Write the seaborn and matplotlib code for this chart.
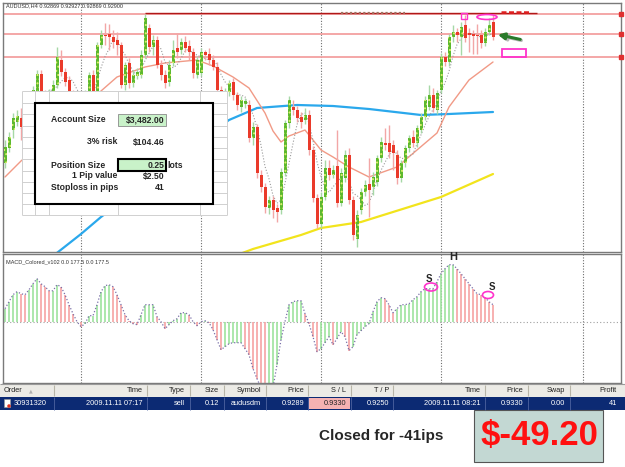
import numpy as np
import pandas as pd
import matplotlib
matplotlib.use("Agg")
import matplotlib.pyplot as plt
import seaborn as sns
from matplotlib.patches import Rectangle, Ellipse

# ---------------- data (AUDUSD H4) ----------------
opens = [0.9032, 0.9062, 0.9098, 0.9114, 0.9122, 0.9104, 0.9134, 0.9126, 0.9174, 0.9210,
         0.9168, 0.9154, 0.9168, 0.9188, 0.9238, 0.9214, 0.9198, 0.9174, 0.9150, 0.9164,
         0.9146, 0.9174, 0.9208, 0.9174, 0.9268, 0.9288, 0.9290, 0.9284, 0.9278, 0.9268,
         0.9188, 0.9232, 0.9192, 0.9206, 0.9208, 0.9248, 0.9302, 0.9264, 0.9278, 0.9228,
         0.9208, 0.9194, 0.9232, 0.9262, 0.9258, 0.9274, 0.9266, 0.9254, 0.9208, 0.9212,
         0.9254, 0.9250, 0.9238, 0.9224, 0.9178, 0.9158, 0.9174, 0.9194, 0.9168, 0.9144,
         0.9150, 0.9148, 0.9082, 0.9104, 0.9008, 0.8984, 0.8942, 0.8958, 0.8942, 0.8938,
         0.9012, 0.9112, 0.9144, 0.9138, 0.9124, 0.9118, 0.9128, 0.9058, 0.8962, 0.8910,
         0.8964, 0.9022, 0.9008, 0.9026, 0.8952, 0.9002, 0.9048, 0.8958, 0.8880, 0.8938,
         0.8974, 0.8990, 0.8984, 0.8994, 0.9042, 0.9072, 0.9072, 0.9068, 0.9048, 0.9002,
         0.9032, 0.9062, 0.9084, 0.9072, 0.9098, 0.9124, 0.9144, 0.9168, 0.9138, 0.9178,
         0.9244, 0.9234, 0.9284, 0.9294, 0.9284, 0.9308, 0.9292, 0.9290, 0.9288, 0.9288,
         0.9272, 0.9294, 0.9314]
closes = [0.9064, 0.9084, 0.9122, 0.9126, 0.9104, 0.9134, 0.9122, 0.9178, 0.9210, 0.9168,
          0.9154, 0.9172, 0.9188, 0.9244, 0.9214, 0.9194, 0.9174, 0.9150, 0.9164, 0.9146,
          0.9174, 0.9208, 0.9174, 0.9268, 0.9288, 0.9286, 0.9284, 0.9274, 0.9268, 0.9188,
          0.9228, 0.9192, 0.9208, 0.9214, 0.9248, 0.9322, 0.9264, 0.9278, 0.9228, 0.9208,
          0.9192, 0.9228, 0.9258, 0.9254, 0.9274, 0.9262, 0.9254, 0.9212, 0.9238, 0.9254,
          0.9248, 0.9238, 0.9224, 0.9178, 0.9158, 0.9174, 0.9192, 0.9168, 0.9148, 0.9158,
          0.9156, 0.9082, 0.9104, 0.9012, 0.8984, 0.8944, 0.8958, 0.8938, 0.8934, 0.9014,
          0.9112, 0.9158, 0.9138, 0.9122, 0.9114, 0.9128, 0.9058, 0.8962, 0.8910, 0.8964,
          0.9022, 0.9008, 0.9018, 0.8952, 0.9012, 0.9048, 0.8958, 0.8888, 0.8928, 0.8974,
          0.8988, 0.8978, 0.9004, 0.9042, 0.9074, 0.9068, 0.9054, 0.9052, 0.9002, 0.9032,
          0.9062, 0.9082, 0.9072, 0.9102, 0.9124, 0.9158, 0.9168, 0.9142, 0.9172, 0.9244,
          0.9234, 0.9284, 0.9294, 0.9288, 0.9304, 0.9282, 0.9288, 0.9286, 0.9286, 0.9272,
          0.9294, 0.9308, 0.9284]
highs = [0.9078, 0.9094, 0.9132, 0.9138, 0.9142, 0.9146, 0.9150, 0.9186, 0.9218, 0.9218,
         0.9178, 0.9180, 0.9198, 0.9264, 0.9258, 0.9222, 0.9206, 0.9178, 0.9170, 0.9172,
         0.9178, 0.9214, 0.9218, 0.9274, 0.9298, 0.9312, 0.9310, 0.9298, 0.9294, 0.9274,
         0.9234, 0.9242, 0.9218, 0.9222, 0.9258, 0.9330, 0.9310, 0.9288, 0.9286, 0.9238,
         0.9218, 0.9238, 0.9278, 0.9292, 0.9282, 0.9286, 0.9278, 0.9262, 0.9246, 0.9262,
         0.9258, 0.9262, 0.9248, 0.9234, 0.9186, 0.9182, 0.9198, 0.9202, 0.9174, 0.9166,
         0.9162, 0.9158, 0.9114, 0.9110, 0.9018, 0.8992, 0.8966, 0.8966, 0.8950, 0.9022,
         0.9118, 0.9166, 0.9158, 0.9146, 0.9134, 0.9142, 0.9138, 0.9066, 0.8970, 0.8974,
         0.9038, 0.9038, 0.9028, 0.9098, 0.9022, 0.9058, 0.9062, 0.8966, 0.8938, 0.8982,
         0.8998, 0.9042, 0.9014, 0.9048, 0.9084, 0.9102, 0.9108, 0.9078, 0.9058, 0.9038,
         0.9068, 0.9088, 0.9098, 0.9108, 0.9132, 0.9166, 0.9188, 0.9182, 0.9178, 0.9252,
         0.9254, 0.9290, 0.9308, 0.9302, 0.9314, 0.9328, 0.9302, 0.9298, 0.9310, 0.9298,
         0.9302, 0.9322, 0.9330]
lows = [0.9022, 0.9054, 0.9082, 0.9106, 0.9078, 0.9096, 0.9110, 0.9118, 0.9166, 0.9158,
        0.9142, 0.9146, 0.9160, 0.9182, 0.9206, 0.9186, 0.9164, 0.9138, 0.9140, 0.9134,
        0.9138, 0.9166, 0.9166, 0.9168, 0.9262, 0.9268, 0.9258, 0.9262, 0.9248, 0.9182,
        0.9178, 0.9182, 0.9184, 0.9200, 0.9202, 0.9242, 0.9254, 0.9248, 0.9222, 0.9198,
        0.9182, 0.9186, 0.9226, 0.9242, 0.9250, 0.9254, 0.9238, 0.9202, 0.9202, 0.9206,
        0.9238, 0.9228, 0.9218, 0.9174, 0.9150, 0.9146, 0.9166, 0.9158, 0.9138, 0.9134,
        0.9142, 0.9074, 0.9068, 0.9002, 0.8974, 0.8932, 0.8930, 0.8922, 0.8914, 0.8930,
        0.9006, 0.9102, 0.9128, 0.9114, 0.9102, 0.9110, 0.9048, 0.8954, 0.8902, 0.8902,
        0.8958, 0.8998, 0.9002, 0.8944, 0.8946, 0.8994, 0.8950, 0.8878, 0.8864, 0.8930,
        0.8966, 0.8924, 0.8968, 0.8986, 0.9034, 0.9058, 0.9042, 0.9018, 0.8990, 0.8994,
        0.9024, 0.9054, 0.9064, 0.9064, 0.9092, 0.9118, 0.9138, 0.9134, 0.9130, 0.9172,
        0.9226, 0.9226, 0.9274, 0.9274, 0.9248, 0.9274, 0.9254, 0.9250, 0.9250, 0.9262,
        0.9266, 0.9288, 0.9278]

# moving averages (read at selected bars)
ma_mid_idx = [0, 4, 24, 28, 35, 40, 48, 52, 57, 61, 65, 67, 69, 71, 75, 79, 82, 86, 91, 98, 103, 108, 111, 116, 122]
ma_mid = [0.9004, 0.9036, 0.9176, 0.9204, 0.9224, 0.9232, 0.9238, 0.9226, 0.9204, 0.9182, 0.9132, 0.9096,
          0.9074, 0.9086, 0.9098, 0.9058, 0.9044, 0.9024, 0.9004, 0.9024, 0.9058, 0.9092, 0.9144, 0.9198, 0.9234]
ma_slow_idx = [12, 19, 24, 56, 63, 73, 82, 91, 104, 111, 122]
ma_slow = [0.8846, 0.8890, 0.8924, 0.9118, 0.9142, 0.9148, 0.9146, 0.9140, 0.9128, 0.9130, 0.9134]
ma_long_idx = [58, 62, 74, 79, 89, 109, 122]
ma_long = [0.8848, 0.8860, 0.8888, 0.8902, 0.8914, 0.8964, 0.9010]

levels = [0.9330, 0.9290, 0.9244]

# MACD histogram (points)
macd = [13, 20, 27, 30, 28, 27, 32, 38, 43, 38, 35, 31, 31, 37, 35, 27, 17, 8, 0, -5,
        -2, 6, 6, 17, 30, 36, 37, 35, 27, 17, 7, 1, -2, -3, 7, 17, 17, 17, 5, 0,
        -7, -3, 1, 3, 9, 9, 7, 0, -4, 0, 1, -1, -8, -18, -28, -25, -22, -21, -21, -21,
        -27, -33, -47, -57, -66, -70, -70, -66, -43, -18, 0, 17, 20, 21, 21, 8, -2, -15, -30, -27,
        -21, -15, -23, -17, -10, -15, -29, -25, -13, -9, -5, -2, 10, 20, 24, 23, 17, 9, 13, 17,
        17, 18, 22, 25, 30, 33, 33, 33, 40, 48, 53, 57, 57, 53, 48, 43, 38, 33, 28, 27,
        24, 20, 17]

# terminal row
headers = ["Order", "Time", "Type", "Size", "Symbol", "Price", "S / L", "T / P", "Time", "Price", "Swap", "Profit"]
row = ["30931320", "2009.11.11 07:17", "sell", "0.12", "audusdm", "0.9289", "0.9330", "0.9250",
       "2009.11.11 08:21", "0.9330", "0.00", "41"]

sheet_labels = ["Account Size", "3% risk", "Position Size", "1 Pip value", "Stoploss in pips"]
sheet_values = ["$3,482.00", "$104.46", "0.25", "$2.50", "41"]

# ---------------- figure ----------------
sns.set_theme(style="white")
plt.rcParams["font.family"] = ["Liberation Sans", "DejaVu Sans"]
plt.rcParams["hatch.linewidth"] = 0.9

W, H = 625, 467
fig = plt.figure(figsize=(6.25, 4.67), dpi=100)
fig.patch.set_facecolor("white")


def box(x0, y0, x1, y1):
    return [x0 / W, 1 - y1 / H, (x1 - x0) / W, (y1 - y0) / H]


ax = fig.add_axes(box(3, 3, 621, 252))
axm = fig.add_axes(box(3, 254, 621, 383))
ov = fig.add_axes([0, 0, 1, 1])
ov.set_xlim(0, W)
ov.set_ylim(H, 0)
ov.axis("off")
ov.patch.set_visible(False)

for a in (ax, axm):
    a.set_facecolor("white")
    a.set_xlim(-0.5, 154)
    a.set_xticks([])
    a.set_yticks([])
    for s in a.spines.values():
        s.set_color("#7a7a7a")
        s.set_linewidth(1.0)

ax.set_ylim(0.8854, 0.9352)
axm.set_ylim(-61.3, 67.7)

o, c, h, l = map(np.array, (opens, closes, highs, lows))
idx = np.arange(len(o))
up = c >= o

grid_idx = [19, 49, 79, 109, 144.5]
for a in (ax, axm):
    for g in grid_idx:
        a.axvline(g, color="#6e6e6e", lw=0.8, ls=(0, (1, 1.5)), zorder=1)

for lv in levels:
    ax.axhline(lv, color="#f3a0a0", lw=1.3, zorder=1)
ax.plot([154] * len(levels), levels, ls="none", marker="s", ms=2.5, color="#e03030", clip_on=False, zorder=6)
ax.hlines(levels[0] + 0.0001, 35, 133, color="#b01818", lw=1.0, zorder=2)
ax.hlines(levels[0] + 0.0001, 84, 100, color="#a07060", lw=1.6, ls=(0, (1, 1)), zorder=2)
ax.hlines(levels[0] + 0.0003, 124, 131, color="#e02020", lw=1.8, ls=(0, (2, 1)), zorder=2)

# moving averages
sns.lineplot(x=ma_long_idx, y=ma_long, ax=ax, color="#f2e41c", lw=1.6, legend=False, zorder=2)
sns.lineplot(x=ma_slow_idx, y=ma_slow, ax=ax, color="#2aa8ec", lw=1.6, legend=False, zorder=2)
sns.lineplot(x=ma_mid_idx, y=ma_mid, ax=ax, color="#f19a86", lw=1.0, legend=False, zorder=2)
fast = pd.Series(c).rolling(5).mean()
sns.lineplot(x=idx, y=fast, ax=ax, color="#9a9a9a", lw=0.8, linestyle=":", legend=False, zorder=2)

# candles
ax.vlines(idx[up], l[up], h[up], color="#a6d8a6", lw=1.0, zorder=3)
ax.vlines(idx[~up], l[~up], h[~up], color="#f2a6a6", lw=1.0, zorder=3)
hb = np.maximum(np.abs(c - o), 0.00012)
ax.bar(idx[up], hb[up], bottom=o[up], width=0.75, color="#5cb82e", edgecolor="#dff070",
       hatch="....", lw=0, zorder=4)
ax.bar(idx[~up], hb[~up], bottom=c[~up], width=0.75, color="#ea3a2a", lw=0, zorder=4)

# MACD
m = np.array(macd, dtype=float)
rising = np.r_[True, m[1:] >= m[:-1]]
cols = np.where(rising, "#9de39d", "#f6a3a3")
axm.axhline(0, color="#a0a0a0", lw=0.8, ls=(0, (1, 2)), zorder=1)
axm.vlines(idx, 0, m, colors=cols, lw=1.2, zorder=2)
sns.lineplot(x=idx, y=m, ax=axm, color="#7a70a8", lw=0.9, linestyle=":", legend=False, zorder=3)

# titles
ov.text(6, 6, "AUDUSD,H4 0.92869 0.92927 0.92869 0.92900", fontsize=4, va="center", color="#333333")
ov.text(6, 262, "MACD_Colored_v102 0.0 177.5 0.0 177.5", fontsize=4, va="center", color="#333333")

# markup on chart
mag = "#ff33cc"
ov.add_patch(Rectangle((461, 13), 6, 6, fill=False, ec=mag, lw=1))
ov.add_patch(Ellipse((487, 17), 20, 5, fill=False, ec=mag, lw=1.2))
ov.add_patch(Rectangle((502, 49), 24, 8, fill=False, ec=mag, lw=1.3))
ov.annotate("", xy=(497, 35), xytext=(524, 41),
            arrowprops=dict(arrowstyle="-|>", color="#b8b8b8", lw=2.4, mutation_scale=9))
ov.annotate("", xy=(495, 34), xytext=(523, 40),
            arrowprops=dict(arrowstyle="-|>", color="#2a7a2a", lw=2.2, mutation_scale=9))
ov.add_patch(Ellipse((431, 287), 13, 8, fill=False, ec=mag, lw=1.2))
ov.add_patch(Ellipse((488, 295), 11, 7, fill=False, ec=mag, lw=1.2))
ov.text(429, 279, "S", fontsize=7, weight="bold", ha="center", va="center")
ov.text(492, 287, "S", fontsize=7, weight="bold", ha="center", va="center")
ov.text(453, 257, "H", fontsize=8, weight="bold", ha="center", va="center")

# spreadsheet overlay
ov.add_patch(Rectangle((22, 91), 205, 124, fc="white", ec="none", zorder=5))
for x in [22, 35, 49, 118, 200, 227]:
    ov.vlines(x, 91, 215, color="#d0d0d0", lw=0.7, zorder=6)
for y in [91, 103, 114, 126, 137, 148, 159, 171, 182, 193, 204, 215]:
    ov.hlines(y, 22, 227, color="#d0d0d0", lw=0.7, zorder=6)
ov.add_patch(Rectangle((35, 103), 178, 101, fc="white", ec="none", zorder=7))
ov.add_patch(Rectangle((118, 114), 48, 12, fc="#c9f2c9", ec="#8a8a8a", lw=0.6, zorder=8))
ov.add_patch(Rectangle((118, 159), 48, 12, fc="#c9f2c9", ec="black", lw=1.5, zorder=8))
ov.add_patch(Rectangle((35, 103), 178, 101, fill=False, ec="black", lw=1.5, zorder=9))
fs = 6.2
lab_pos = [(51, 120, "left"), (117, 142, "right"), (51, 165, "left"), (117, 176, "right"), (51, 188, "left")]
val_pos = [(165, 120), (165, 142), (164, 165), (165, 176), (165, 188)]
for (x, y, ha), t in zip(lab_pos, sheet_labels):
    ov.text(x, y, t, fontsize=fs, weight="bold", ha=ha, va="center", zorder=10)
for (x, y), t in zip(val_pos, sheet_values):
    ov.text(x, y, t, fontsize=fs, weight="bold", ha="right", va="center", zorder=10)
ov.text(167, 165, "lots", fontsize=fs, weight="bold", ha="left", va="center", zorder=10)

# terminal table
seps = [54, 147, 190, 224, 266, 308, 351, 393, 485, 528, 570]
rights = [None, 143, 185, 219, 261, 304, 346, 389, 481, 523, 565, 617]
ov.add_patch(Rectangle((0, 384), W, 13, fc="#ecebe6", ec="none", zorder=5))
ov.hlines(384, 0, W, color="#9a9a9a", lw=0.8, zorder=6)
for x in seps:
    ov.vlines(x, 385, 396, color="#b8b5a8", lw=0.8, zorder=6)
ov.add_patch(Rectangle((0, 397), W, 13, fc="#0c2a73", ec="none", zorder=5))
for x in seps:
    ov.vlines(x, 397, 410, color="#4d63a0", lw=0.6, zorder=6)
ov.add_patch(Rectangle((309, 398), 41, 11, fc="#f6b2b2", ec="none", zorder=6))
tfs = 5.3
ov.text(4, 390.5, headers[0], fontsize=tfs, ha="left", va="center", color="#222222", zorder=7)
ov.text(31, 390.5, "\u25b2", fontsize=3.5, ha="center", va="center", color="#b0b0b0",
        family="DejaVu Sans", zorder=7)
for t, x in zip(headers[1:], rights[1:]):
    ov.text(x, 390.5, t, fontsize=tfs, ha="right", va="center", color="#222222", zorder=7)
ov.add_patch(Rectangle((4, 399), 6, 8, fc="white", ec="#999999", lw=0.4, zorder=7))
ov.add_patch(Ellipse((9, 406), 3.5, 3.5, fc="#e03020", ec="none", zorder=8))
ov.text(14, 403.5, row[0], fontsize=tfs, ha="left", va="center", color="white", zorder=7)
for i, (t, x) in enumerate(zip(row[1:], rights[1:])):
    col = "#222222" if i == 5 else "white"
    ov.text(x, 403.5, t, fontsize=tfs, ha="right", va="center", color=col, zorder=7)

# result
ov.text(381, 436, "Closed for -41ips", fontsize=11, weight="bold", ha="center", va="center")
ov.add_patch(Rectangle((474, 410), 129, 52, fc="#c3d8d3", ec="#555555", lw=0.8, zorder=5))
ov.text(539, 436, "$-49.20", fontsize=25, weight="bold", color="#ff1010", ha="center", va="center",
        zorder=6)

fig.savefig("out.png", dpi=100, facecolor="white")
